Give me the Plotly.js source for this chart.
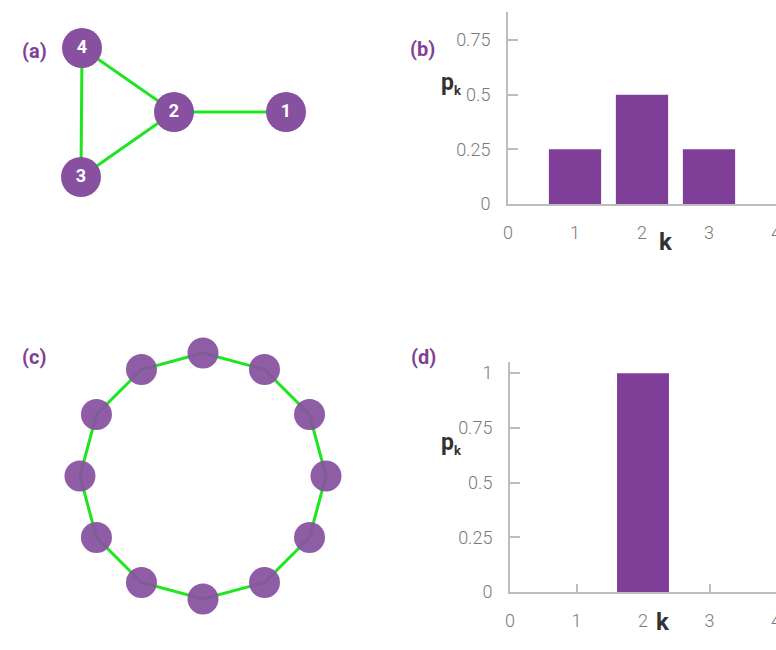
<!DOCTYPE html>
<html>
<head>
<meta charset="utf-8">
<script src="https://cdn.plot.ly/plotly-3.0.1.min.js"></script>
<style>html,body{margin:0;padding:0;background:#fff;overflow:hidden}#chart{width:776px;height:650px}</style>
</head>
<body>
<div id="chart"></div>
<script>
// ---- Data ----
// (a) small network: node labels, layout positions, edges
const netANodes = ['1', '2', '3', '4'];
const netAPosX = [1.12, 0.0, -0.93, -0.92];
const netAPosY = [0.0, 0.0, -0.65, 0.64];
const netAEdges = [[0, 1], [1, 2], [1, 3], [2, 3]];

// (c) ring network: number of nodes (every node has degree 2)
const ringNodeCount = 12;

// (b) degree distribution of network (a)
const degreesB = [1, 2, 3];
const pkB = [0.25, 0.5, 0.25];

// (d) degree distribution of the ring
const degreesD = [2];
const pkD = [1.0];

const xTickVals = [0, 1, 2, 3, 4];
const xTickText = ['0', '1', '2', '3', '4'];
const yTickValsB = [0, 0.25, 0.5, 0.75];
const yTickTextB = ['0', '0.25', '0.5', '0.75'];
const yTickValsD = [0, 0.25, 0.5, 0.75, 1];
const yTickTextD = ['0', '0.25', '0.5', '0.75', '1'];

// ---- Styles ----
const purple = '#7f3f98';
const nodePurple = '#87519f';
const green = '#1ee61e';
const axisGray = '#bdbdbd';
const tickFont = {family: 'Roboto', size: 18, color: '#7a7a7a', weight: 300};

// circular layout for ring
const ringX = [], ringY = [];
for (let i = 0; i < ringNodeCount; i++) {
  const a = Math.PI / 2 - i * 2 * Math.PI / ringNodeCount;
  ringX.push(Math.cos(a));
  ringY.push(Math.sin(a));
}

// edge polylines
const aEx = [], aEy = [];
netAEdges.forEach(([s, t]) => {
  aEx.push(netAPosX[s], netAPosX[t], null);
  aEy.push(netAPosY[s], netAPosY[t], null);
});
const rEx = [], rEy = [];
for (let i = 0; i <= ringNodeCount; i++) {
  rEx.push(ringX[i % ringNodeCount]);
  rEy.push(ringY[i % ringNodeCount]);
}

const traces = [
  {x: aEx, y: aEy, xaxis: 'x', yaxis: 'y', mode: 'lines', line: {color: green, width: 3}, hoverinfo: 'skip', showlegend: false},
  {x: netAPosX, y: netAPosY, xaxis: 'x', yaxis: 'y', mode: 'markers+text', text: netANodes,
   textfont: {family: 'Roboto', size: 18, color: '#ffffff', weight: 700}, textposition: 'middle center',
   marker: {size: 40, color: nodePurple, line: {width: 0}}, showlegend: false},
  {x: rEx, y: rEy, xaxis: 'x3', yaxis: 'y3', mode: 'lines', line: {color: green, width: 3}, hoverinfo: 'skip', showlegend: false},
  {x: ringX, y: ringY, xaxis: 'x3', yaxis: 'y3', mode: 'markers',
   marker: {size: 31, color: nodePurple, opacity: 0.93, line: {width: 0}}, showlegend: false},
  {type: 'bar', x: degreesB, y: pkB, xaxis: 'x2', yaxis: 'y2', width: 0.78, marker: {color: purple, line: {width: 0}}, showlegend: false},
  {type: 'bar', x: degreesD, y: pkD, xaxis: 'x4', yaxis: 'y4', width: 0.78, marker: {color: purple, line: {width: 0}}, showlegend: false}
];

const hidden = {visible: false, showgrid: false, zeroline: false, fixedrange: true};
const W = 776, H = 650;

function barX(left, rmax) {
  return {domain: [left / W, 1], range: [0, rmax], tickvals: xTickVals, ticktext: xTickText,
    showline: true, linecolor: axisGray, linewidth: 2, ticks: 'inside', ticklen: 8, tickwidth: 2, tickcolor: axisGray,
    tickfont: tickFont, ticklabelstandoff: 11, ticklabeloverflow: 'allow', layer: 'below traces',
    showgrid: false, zeroline: false, fixedrange: true};
}
function barY(zeroPx, topPx, rmax, tv, tt) {
  return {domain: [(H - zeroPx) / H, (H - topPx) / H], range: [0, rmax], tickvals: tv, ticktext: tt,
    showline: true, linecolor: axisGray, linewidth: 2, ticks: 'inside', ticklen: 10, tickwidth: 2, tickcolor: axisGray,
    tickfont: tickFont, ticklabelstandoff: 12, layer: 'below traces',
    showgrid: false, zeroline: false, fixedrange: true};
}

const labelFont = {family: 'Roboto', size: 20, color: purple, weight: 700};
const axTitleFont = {family: 'Roboto', size: 23, color: '#333333', weight: 700};
const pk = 'p<sub><span style="font-size:13px">k</span></sub>';

const layout = {
  width: W, height: H,
  margin: {l: 0, r: 0, t: 0, b: 0},
  paper_bgcolor: '#ffffff', plot_bgcolor: 'rgba(0,0,0,0)',
  xaxis: Object.assign({}, hidden, {domain: [0, 0.5], range: [-1.74, 2.14]}),
  yaxis: Object.assign({}, hidden, {domain: [0.5, 1], range: [-2.13, 1.12]}),
  xaxis3: Object.assign({}, hidden, {domain: [0, 0.5], range: [-1.650, 1.504]}),
  yaxis3: Object.assign({}, hidden, {domain: [0, 0.5], range: [-1.415, 1.228]}),
  xaxis2: Object.assign(barX(508, 4.0), {anchor: 'y2'}),
  yaxis2: Object.assign(barY(204, 12, 0.878, yTickValsB, yTickTextB), {anchor: 'x2'}),
  xaxis4: Object.assign(barX(510, 4.0), {anchor: 'y4'}),
  yaxis4: Object.assign(barY(592, 362, 1.051, yTickValsD, yTickTextD), {anchor: 'x4'}),
  annotations: [
    {text: '(a)', x: 20 / W, y: 1 - 37 / H, xref: 'paper', yref: 'paper', showarrow: false, font: labelFont},
    {text: '(b)', x: 423 / W, y: 1 - 35 / H, xref: 'paper', yref: 'paper', showarrow: false, font: labelFont},
    {text: '(c)', x: 20 / W, y: 1 - 357 / H, xref: 'paper', yref: 'paper', showarrow: false, font: labelFont},
    {text: '(d)', x: 424 / W, y: 1 - 357 / H, xref: 'paper', yref: 'paper', showarrow: false, font: labelFont},
    {text: pk, x: 451 / W, y: 1 - 67 / H, xref: 'paper', yref: 'paper', showarrow: false, font: axTitleFont},
    {text: pk, x: 451 / W, y: 1 - 460 / H, xref: 'paper', yref: 'paper', showarrow: false, font: axTitleFont},
    {text: 'k', x: 675 / W, y: 1 - 242 / H, xref: 'paper', yref: 'paper', showarrow: false, font: Object.assign({}, axTitleFont, {size: 24})},
    {text: 'k', x: 672 / W, y: 1 - 638 / H, xref: 'paper', yref: 'paper', showarrow: false, font: Object.assign({}, axTitleFont, {size: 24})}
  ]
};

Plotly.newPlot('chart', traces, layout, {displayModeBar: false, staticPlot: true});
</script>
</body>
</html>
